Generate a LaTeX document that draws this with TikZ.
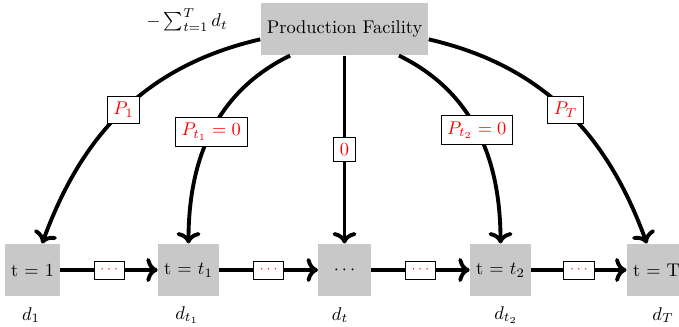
\documentclass[tikz,border=0pt]{standalone}
\usetikzlibrary{arrows.meta}
\definecolor{boxgray}{RGB}{200,200,200}
\begin{document}
\begin{tikzpicture}[x=0.5435pt,y=0.5435pt,
  box/.style={fill=boxgray,minimum size=1cm,inner sep=3.33pt},
  arr/.style={line width=2.1pt,->},
  lab/.style={draw,fill=white,text=red,line width=0.4pt},
  hlab/.style={draw,fill=white,text=red,line width=0.4pt,font=\scriptsize}]
\useasboundingbox (0,0) rectangle (679,-327);
\node[box] (prod) at (344.5,-29) {Production Facility};
\node[box] (n1) at (32.5,-270) {t = 1};
\node[box] (nt1) at (188.5,-270) {t = $t_1$};
\node[box] (nd) at (344.5,-270) {$\cdots$};
\node[box] (nt2) at (500.5,-270) {t = $t_2$};
\node[box] (nT) at (656.5,-270) {t = T};
\node[inner sep=1pt] (sum) at (187,-20) {$-\sum_{t=1}^T d_t$};
\node (d1) at (31,-315) {$d_1$};
\node (dt1) at (187,-315) {$d_{t_1}$};
\node (dt) at (340,-315) {$d_t$};
\node (dt2) at (506,-315) {$d_{t_2}$};
\node (dT) at (663,-315) {$d_T$};
\draw[arr] (prod.187) to[out=193,in=70] node[lab,pos=0.5] {$P_1$} (n1);
\draw[arr] (prod) to[out=206,in=90] node[lab,pos=0.5] {$P_{t_1}=0$} (nt1);
\draw[arr] (prod) -- node[lab,pos=0.5] {$0$} (nd);
\draw[arr] (prod) to[out=334,in=90] node[lab,pos=0.49] {$P_{t_2}=0$} (nt2);
\draw[arr] (prod.-7) to[out=-13,in=110] node[lab,pos=0.5] {$P_T$} (nT);
\draw[arr] (n1) -- node[hlab] {$\cdots$} (nt1);
\draw[arr] (nt1) -- node[hlab] {$\cdots$} (nd);
\draw[arr] (nd) -- node[hlab] {$\cdots$} (nt2);
\draw[arr] (nt2) -- node[hlab] {$\cdots$} (nT);
\end{tikzpicture}
\end{document}
